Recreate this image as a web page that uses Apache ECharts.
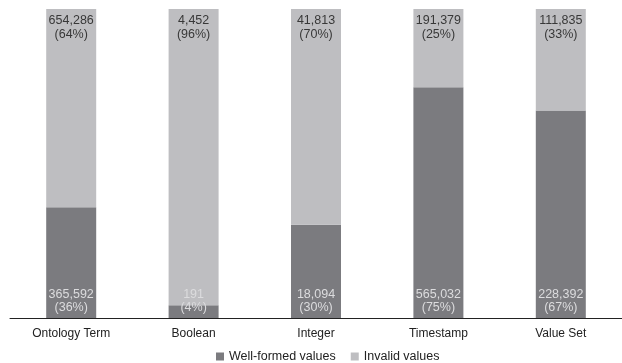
<!DOCTYPE html>
<html>
<head>
<meta charset="utf-8">
<script src="https://cdn.jsdelivr.net/npm/echarts@6/dist/echarts.min.js"></script>
<style>
  html, body { margin: 0; padding: 0; background: #fff; }
  #chart { width: 622px; height: 363px; }
</style>
</head>
<body>
<div id="chart"></div>
<script>
// Value types and the count of well-formed vs. invalid values for each
const categories = ['Ontology Term', 'Boolean', 'Integer', 'Timestamp', 'Value Set'];
const wellFormed = [365592, 191, 18094, 565032, 228392];
const invalid = [654286, 4452, 41813, 191379, 111835];

// Share of each type's total, in percent, used for the 100% stack
const totals = categories.map((_, i) => wellFormed[i] + invalid[i]);
const wellPct = wellFormed.map((v, i) => v / totals[i] * 100);
const invalidPct = invalid.map((v, i) => v / totals[i] * 100);

const fmt = n => n.toLocaleString('en-US');
const FONT = '"Liberation Sans", Arial, sans-serif';

const chart = echarts.init(document.getElementById('chart'), null, { renderer: 'canvas' });

chart.setOption({
  animation: false,
  textStyle: { fontFamily: FONT },
  grid: { left: 10, right: -12, top: 9, bottom: 45, containLabel: false },
  legend: {
    left: 211,
    top: 345,
    icon: 'rect',
    itemWidth: 8,
    itemHeight: 8,
    itemGap: 15,
    textStyle: { fontFamily: FONT, fontSize: 12.5, color: '#222' },
    data: ['Well-formed values', 'Invalid values']
  },
  xAxis: {
    type: 'category',
    data: categories,
    axisLine: { lineStyle: { color: '#222', width: 1 } },
    axisTick: { show: false },
    axisLabel: { fontFamily: FONT, fontSize: 12, color: '#222', margin: 10 }
  },
  yAxis: {
    type: 'value',
    min: 0,
    max: 100,
    show: false
  },
  series: [
    {
      name: 'Well-formed values',
      type: 'bar',
      stack: 'share',
      barWidth: 50,
      itemStyle: { color: '#7b7b7f' },
      data: wellPct,
      label: {
        show: true,
        position: 'insideBottom',
        distance: 4,
        fontFamily: FONT,
        fontSize: 12.5,
        lineHeight: 13,
        color: '#dcdcde',
        formatter: p => fmt(wellFormed[p.dataIndex]) + '\n(' + Math.round(wellPct[p.dataIndex]) + '%)'
      }
    },
    {
      name: 'Invalid values',
      type: 'bar',
      stack: 'share',
      barWidth: 50,
      itemStyle: { color: '#bebec1' },
      data: invalidPct,
      label: {
        show: true,
        position: 'insideTop',
        distance: 5,
        fontFamily: FONT,
        fontSize: 12.5,
        lineHeight: 14,
        color: '#383838',
        formatter: p => fmt(invalid[p.dataIndex]) + '\n(' + Math.round(invalidPct[p.dataIndex]) + '%)'
      }
    }
  ]
});
</script>
</body>
</html>
